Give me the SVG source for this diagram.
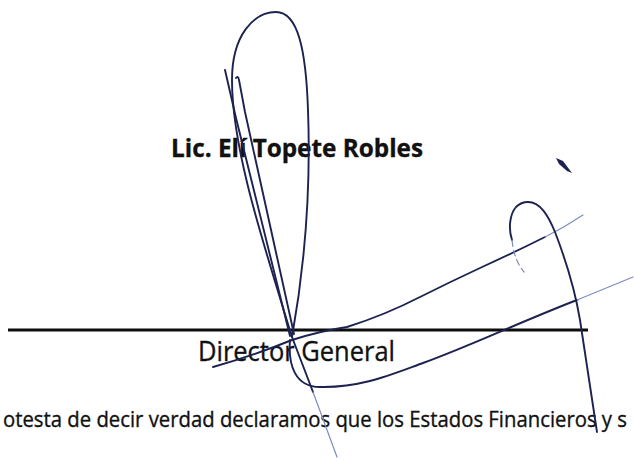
<svg xmlns="http://www.w3.org/2000/svg" width="634" height="461" viewBox="0 0 634 461">
<style>
.t{font-family:"Open Sans","Noto Sans","Liberation Sans",sans-serif;fill:#111;stroke:#111;stroke-width:0.35;}
.ink{fill:none;stroke:#1e2250;stroke-width:1.9;stroke-linecap:round;stroke-linejoin:round;}
.lt{fill:none;stroke:#7f8cc0;stroke-width:1.2;stroke-linecap:round;}
</style>
<rect width="634" height="461" fill="#fff"/>
<g id="texts">
<text class="t" x="171" y="157" font-size="25" font-weight="bold" textLength="252" lengthAdjust="spacingAndGlyphs">Lic. Elí Topete Robles</text>
<text class="t" x="198" y="361" font-size="27" textLength="197" lengthAdjust="spacingAndGlyphs">Director General</text>
<text class="t" x="3" y="427" font-size="22" textLength="624" lengthAdjust="spacingAndGlyphs">otesta de decir verdad declaramos que los Estados Financieros y s</text>
</g>
<line id="rule" x1="8" y1="330" x2="588" y2="330" stroke="#0d0d0d" stroke-width="3"/>
<g id="signature">
<path class="ink" d="M292,337 C264,245 232,150 232,80 C232,35 254,12 276,12 C298,12 306,50 308,110 C311,190 304,270 292,337"/>
<path class="ink" d="M225,70 L236,118 L290,336"/>
<path class="ink" d="M236,78 Q238,75 239,80 L245,112 L294,334"/>
<path class="ink" d="M292,337 L313,392"/>
<path class="lt" d="M313,392 L337,457"/>
<path class="ink" d="M290,340 C288,365 295,387 320,387 C360,388 390,375 423,363 C470,346 520,322 577,300"/>
<path class="lt" d="M577,300 L633,277"/>
<path class="ink" d="M213,367 Q255,355 292,340 Q320,331 347,327 Q385,315 420,297 Q450,282 480,268 Q515,252 545,237"/>
<path class="lt" d="M545,237 Q565,227 583,215"/>
<path class="ink" d="M512,240 C508,228 510,214 516,207 C520,203 524,202 528,202 C540,202 548,215 555,232 C565,258 575,290 580,320 C586,360 592,400 597,432"/>
<path class="lt" d="M512,240 Q514,260 524,272" stroke-dasharray="6 4"/>
<path d="M556,158 L563,161 L572,173 L567,171 L559,164 Z" fill="#1e2250"/>
</g>
</svg>
